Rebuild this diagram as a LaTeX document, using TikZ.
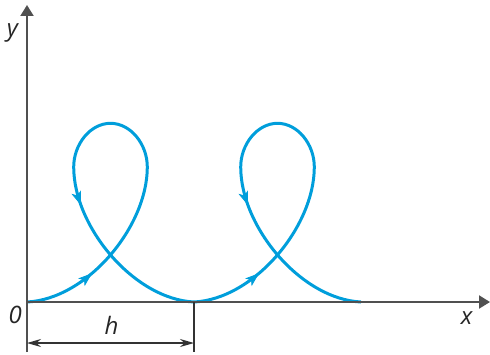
\documentclass[tikz,border=0pt]{standalone}
\usepackage{fontspec}
\setmainfont{Open Sans}
\usetikzlibrary{arrows.meta,decorations.markings}
\definecolor{curveblue}{RGB}{0,158,219}
\definecolor{axisgray}{RGB}{80,80,80}
\tikzset{
  axisline/.style={draw=axisgray,line width=1pt,-{Triangle[length=5.5pt,width=6.5pt]}},
  dimline/.style={draw=black!80,line width=0.7pt},
  curveline/.style={draw=curveblue,line width=1.5pt},
  curvearrow/.style={decoration={markings,mark=at position #1 with {\arrow[curveblue]{Stealth[length=7pt,width=5pt,inset=1.8pt]}}},postaction={decorate}},
  lbl/.style={font=\fontsize{12}{14}\selectfont\itshape,inner sep=0pt,text=black!85}
}
\begin{document}
\begin{tikzpicture}[x=0.5pt,y=0.5pt]
\useasboundingbox (0,0) rectangle (490,354);
\begin{scope}[shift={(27,52)}]
  \coordinate (O) at (0,0);
  \coordinate (ybot) at (0,-50);
  \coordinate (ytop) at (0,297);
  \coordinate (xend) at (463,0);
  \coordinate (d1) at (0,-41);
  \coordinate (d2) at (167,-41);
  \coordinate (t1) at (167,0);
  \coordinate (t2) at (167,-50);
  % curve arches
  \foreach \i in {0,1}{
    \begin{scope}[xshift=167*\i*0.5pt]
      \draw[curveline] (0,0) .. controls (60,3) and (120.3,75) .. (120.3,135)
        .. controls (120.3,158) and (103.5,178.7) .. (83.5,178.7)
        .. controls (63.5,178.7) and (46.7,158) .. (46.7,135)
        .. controls (46.7,75) and (107,3) .. (167,0);
      \path[curvearrow=0.37] (0,0) .. controls (60,3) and (120.3,75) .. (120.3,135);
      \path[curvearrow=0.2] (46.7,135) .. controls (46.7,75) and (107,3) .. (167,0);
    \end{scope}
  }
  % axes
  \draw[axisline] (ybot) -- (ytop);
  \draw[axisline] (O) -- (xend);
  % dimension
  \draw[dimline] (t1) -- (t2);
  \draw[dimline,{Stealth[length=7pt,width=4pt]}-{Stealth[length=7pt,width=4pt]}] (d1) -- (d2);
  % labels
  \node[lbl] (ylab) at (-14.5,269.5) {y};
  \node[lbl] (xlab) at (439.7,-16.3) {x};
  \node[lbl] (olab) at (-11.7,-13) {0};
  \node[lbl] (hlab) at (84.5,-23) {h};
\end{scope}
\end{tikzpicture}
\end{document}
